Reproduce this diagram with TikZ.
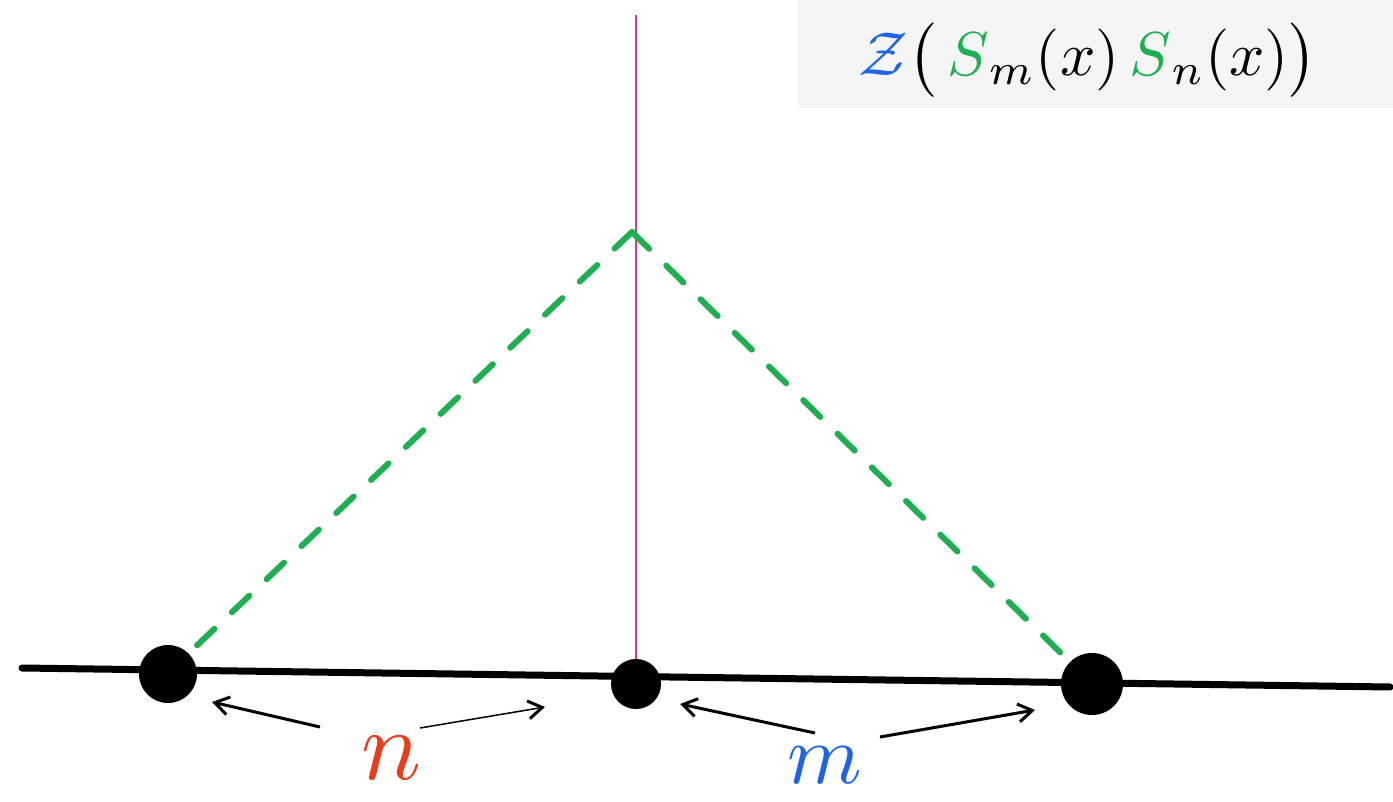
\documentclass[tikz,border=0pt]{standalone}
\usepackage{amsmath}
\usetikzlibrary{arrows.meta}
\definecolor{dgreen}{RGB}{30,175,80}
\definecolor{mblue}{RGB}{30,100,230}
\definecolor{nred}{RGB}{235,60,30}
\definecolor{vred}{RGB}{225,60,110}
\tikzset{
  ball/.style={circle,fill=black,inner sep=0pt},
  dashgreen/.style={dgreen,line width=6pt,dash pattern=on 24pt off 24pt,line cap=round},
  arr/.style={black,line width=3pt,-{Straight Barb[length=14pt,width=18pt,line width=3pt]}},
}
\begin{document}
\begin{tikzpicture}[x=1pt,y=-1pt]
\useasboundingbox (0,0) rectangle (1393,802);
% formula box
\fill[gray!8] (798,0) rectangle (1393,108);
\node[scale=6.2,inner sep=0pt] (formula) at (1088,60) {$\textcolor{mblue}{\mathcal{Z}}\bigl(\,\textcolor{dgreen}{S}_m(x)\,\textcolor{dgreen}{S}_n(x)\bigr)$};
% points
\coordinate (axL) at (22,668);
\coordinate (axR) at (1390,687);
\coordinate (top) at (636,15);
\coordinate (apex) at (632,232);
\draw[black,line width=7pt,line cap=round] (axL) -- (axR);
\node[ball,minimum size=58pt] (L) at (168,674) {};
\node[ball,minimum size=50pt] (M) at (636,684) {};
\node[ball,minimum size=62pt] (R) at (1092,684) {};
\draw[vred,line width=1.5pt] (top) -- (M.north);
\draw[dashgreen] (apex) -- (L.north east);
\draw[dashgreen] (apex) -- (R.north west);
% arrows
\coordinate (a1s) at (320,727); \coordinate (a1e) at (212,702);
\coordinate (a2s) at (420,728); \coordinate (a2e) at (545,707);
\coordinate (a3s) at (815,733); \coordinate (a3e) at (680,704);
\coordinate (a4s) at (880,737); \coordinate (a4e) at (1035,710);
\draw[arr] (a1s) -- (a1e);
\draw[arr,line width=1.5pt] (a2s) -- (a2e);
\draw[arr] (a3s) -- (a3e);
\draw[arr] (a4s) -- (a4e);
\node[text=nred,scale=10] (n) at (392,758) {$n$};
\node[text=mblue,scale=8.5] (m) at (825,765) {$m$};
\end{tikzpicture}
\end{document}
